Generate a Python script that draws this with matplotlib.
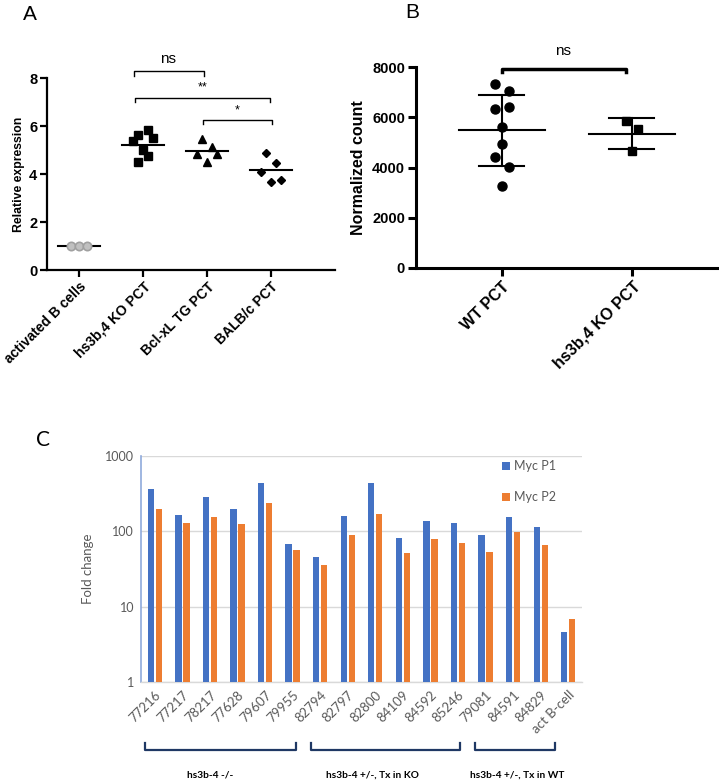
import numpy as np
import matplotlib
matplotlib.use("Agg")
import matplotlib.pyplot as plt
import matplotlib.transforms as mtransforms

# panel A: relative expression
a_groups = ["activated B cells", "hs3b,4 KO PCT", "Bcl-xL TG PCT", "BALB/c PCT"]
a_actb = [1.02, 1.02, 1.02]
a_ko = [5.82, 5.62, 5.51, 5.37, 5.01, 4.76, 4.51]
a_bcl = [5.44, 4.83, 5.13, 4.83, 4.51]
a_balb = [4.88, 4.47, 4.08, 3.74, 3.68]

# panel B: normalized count
b_groups = ["WT PCT", "hs3b,4 KO PCT"]
b_wt = [7330, 7040, 6310, 6390, 5610, 4920, 4420, 4020, 3250]
b_ko = [5850, 5530, 4670]

# panel C: fold change
c_samples = ["77216", "77217", "78217", "77628", "79607", "79955",
             "82794", "82797", "82800", "84109", "84592", "85246",
             "79081", "84591", "84829", "act B-cell"]
c_p1 = [364, 163, 282, 200, 441, 68, 46, 161, 437, 81, 137, 130, 90, 155, 114, 4.6]
c_p2 = [196, 130, 155, 126, 237, 56, 36, 88, 171, 52, 79, 70, 53, 98, 66, 6.8]
c_group_names = ["hs3b-4 -/-", "hs3b-4 +/-, Tx in KO", "hs3b-4 +/-, Tx in WT"]

# jitter used in the dot plots (x offsets)
jit_actb = [-0.12, 0.0, 0.12]
jit_ko = [0.08, -0.08, 0.16, -0.16, 0.0, 0.08, -0.08]
jit_bcl = [-0.08, -0.15, 0.08, 0.16, 0.0]
jit_balb = [-0.08, 0.08, -0.16, 0.16, 0.0]
jit_wt = [-0.05, 0.05, -0.05, 0.05, 0.0, 0.0, -0.05, 0.05, 0.0]
jit_b_ko = [-0.05, 0.04, 0.0]

AB_FONT = "Liberation Sans"
C_FONT = "Lato"
GREY = "#595959"

fig = plt.figure(figsize=(7.19, 7.82), dpi=100)

# ---------------- panel A ----------------
ax = fig.add_axes([0.0654, 0.6547, 0.4006, 0.2455])
sets = [(a_actb, jit_actb, "o"), (a_ko, jit_ko, "s"), (a_bcl, jit_bcl, "^"), (a_balb, jit_balb, "D")]
for i, (vals, jit, m) in enumerate(sets):
    xs = i + np.array(jit)
    if i == 0:
        ax.plot(xs, vals, m, ms=6, mfc="#c0c0c0", mec="#a0a0a0", mew=1.2, ls="none", zorder=3)
    else:
        ax.plot(xs, vals, m, ms=5.5 if m != "D" else 4.5, color="black", ls="none", zorder=3)
    ax.plot([i - 0.33, i + 0.33], [np.mean(vals)] * 2, color="black", lw=1.5, zorder=2)
ax.set_xlim(-0.5, 4.0)
ax.set_ylim(0, 8)
ax.set_yticks([0, 2, 4, 6, 8])
ax.set_xticks(range(4))
ax.set_xticklabels(a_groups, rotation=45, ha="right", rotation_mode="anchor",
                   fontsize=10, fontweight="bold", family=AB_FONT)
for t in ax.get_yticklabels():
    t.set_fontsize(10.5)
    t.set_fontweight("bold")
    t.set_family(AB_FONT)
ax.set_ylabel("Relative expression", fontsize=8.8, fontweight="bold", family=AB_FONT, labelpad=3)
for s in ["top", "right"]:
    ax.spines[s].set_visible(False)
for s in ["left", "bottom"]:
    ax.spines[s].set_linewidth(1.6)
ax.tick_params(width=1.6, length=5, pad=2)

def bracket(ax, x0, x1, y, h, lw=1.0):
    ax.plot([x0, x0, x1, x1], [y - h, y, y, y - h], color="black", lw=lw, clip_on=False)

bracket(ax, 0.86, 1.96, 8.29, 0.19)
ax.text(1.39, 8.5, "ns", ha="center", va="bottom", fontsize=11, family=AB_FONT)
bracket(ax, 0.87, 2.98, 7.18, 0.18)
ax.text(1.93, 7.35, "**", ha="center", va="bottom", fontsize=9, family=AB_FONT)
bracket(ax, 1.94, 3.01, 6.27, 0.2)
ax.text(2.47, 6.42, "*", ha="center", va="bottom", fontsize=9, family=AB_FONT)

fig.text(30 / 719, 1 - 14 / 782, "A", fontsize=15, family=AB_FONT, ha="center", va="center")

# ---------------- panel B ----------------
bx = fig.add_axes([0.5786, 0.6573, 0.4186, 0.257])
for i, (vals, jit, m) in enumerate([(b_wt, jit_wt, "o"), (b_ko, jit_b_ko, "s")]):
    xs = i + np.array(jit)
    bx.plot(xs, vals, m, ms=6.5 if m == "o" else 6, color="black", ls="none", zorder=3)
    mu = np.mean(vals)
    sd = np.std(vals, ddof=1)
    bx.plot([i - 0.33, i + 0.33], [mu, mu], color="black", lw=1.5)
    bx.plot([i, i], [mu - sd, mu + sd], color="black", lw=1.5)
    bx.plot([i - 0.18, i + 0.17], [mu + sd] * 2, color="black", lw=1.5)
    bx.plot([i - 0.18, i + 0.17], [mu - sd] * 2, color="black", lw=1.5)
bx.set_xlim(-0.66, 1.65)
bx.set_ylim(0, 8000)
bx.set_yticks([0, 2000, 4000, 6000, 8000])
bx.set_xticks(range(2))
bx.set_xticklabels(b_groups, rotation=45, ha="right", rotation_mode="anchor",
                   fontsize=11.5, fontweight="bold", family=AB_FONT)
for t in bx.get_yticklabels():
    t.set_fontsize(10.5)
    t.set_fontweight("bold")
    t.set_family(AB_FONT)
bx.set_ylabel("Normalized count", fontsize=11.5, fontweight="bold", family=AB_FONT, labelpad=4)
for s in ["top", "right"]:
    bx.spines[s].set_visible(False)
for s in ["left", "bottom"]:
    bx.spines[s].set_linewidth(2.2)
bx.tick_params(width=2.2, length=6, pad=2)
bx.plot([0, 0, 0.95, 0.95], [7800, 7930, 7930, 7800], color="black", lw=2.5, clip_on=False)
bx.text(0.47, 8350, "ns", ha="center", va="bottom", fontsize=11, family=AB_FONT)

fig.text(412 / 719, 1 - 12 / 782, "B", fontsize=15, family=AB_FONT, ha="center", va="center")

# ---------------- panel C ----------------
cx = fig.add_axes([0.1961, 0.1279, 0.6134, 0.289])
x = np.arange(len(c_samples))
w = 0.23
cx.bar(x - 0.145, c_p1, w, color="#4472c4", label="Myc P1", zorder=3)
cx.bar(x + 0.145, c_p2, w, color="#ed7d31", label="Myc P2", zorder=3)
cx.set_yscale("log")
cx.set_ylim(1, 1000)
cx.set_xlim(-0.5, len(c_samples) - 0.5)
cx.set_yticks([1, 10, 100, 1000])
cx.set_yticklabels(["1", "10", "100", "1000"])
cx.yaxis.set_minor_locator(matplotlib.ticker.NullLocator())
cx.grid(axis="y", color="#d9d9d9", lw=1, zorder=0)
cx.set_xticks(x)
cx.set_xticklabels(c_samples, rotation=45, ha="right", rotation_mode="anchor",
                   fontsize=9.5, color=GREY, family=C_FONT)
for t in cx.get_yticklabels():
    t.set_fontsize(9)
    t.set_color(GREY)
    t.set_family(C_FONT)
cx.tick_params(length=0, pad=5)
cx.set_ylabel("Fold change", fontsize=9.5, color=GREY, family=C_FONT, labelpad=8)
for s in ["top", "right"]:
    cx.spines[s].set_visible(False)
cx.spines["left"].set_color("#8faadc")
cx.spines["left"].set_linewidth(1.2)
cx.spines["bottom"].set_color("#d9d9d9")
cx.spines["bottom"].set_linewidth(1)

leg = cx.legend(loc="upper left", bbox_to_anchor=(491 / 719, 1 - 449 / 782),
                bbox_transform=fig.transFigure, frameon=False, handlelength=0.6,
                handleheight=0.6, handletextpad=0.3, labelspacing=1.5,
                prop={"family": C_FONT, "size": 9})
for t in leg.get_texts():
    t.set_color(GREY)

# group brackets below the axis
trans = mtransforms.blended_transform_factory(cx.transData, cx.transAxes)
brackets = [(-0.36, 5.13), (5.67, 11.08), (11.62, 14.53)]
label_x = [2.0, 7.88, 13.15]
for (x0, x1), name, lx in zip(brackets, c_group_names, label_x):
    cx.plot([x0, x0, x1, x1], [-0.27, -0.30, -0.30, -0.27], color="#1f3864", lw=1.6,
            transform=trans, clip_on=False)
    cx.text(lx, -0.41, name, transform=trans, ha="center", va="center",
            fontsize=7.3, fontweight="bold", family=C_FONT)

fig.text(43 / 719, 1 - 440 / 782, "C", fontsize=15, family=C_FONT, ha="center", va="center")

fig.savefig("out.png", dpi=100)
